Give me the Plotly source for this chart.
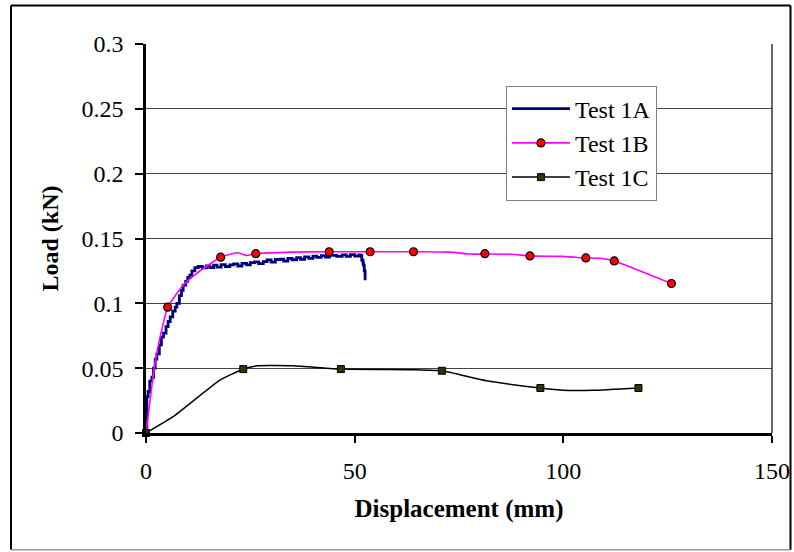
import plotly.graph_objects as go

# ---------------- data (mm, kN) ----------------
a_x = [0, 0.2, 0.5, 0.9, 1.4, 1.8, 2.2, 2.6, 3.2, 3.7, 4.2, 4.8, 5.3, 5.8, 6.4, 7.0, 7.4, 8.0,
       8.5, 8.9, 9.5, 10.0, 10.5, 11.0, 11.7, 12.5, 13.5, 14.5, 15.3, 16.2, 17.0, 18.0, 19.0,
       20.1, 21.0, 22.0, 23.0, 24.1, 25.0, 26.0, 27.0, 28.1, 29.0, 30.0, 31.0, 32.1, 33.0,
       34.0, 35.0, 36.1, 37.0, 38.0, 39.0, 40.0, 40.9, 42.0, 43.0, 44.0, 45.7, 47.0, 48.0,
       49.0, 50.0, 51.0, 51.3, 51.7, 52.0, 52.1, 52.3, 52.5]
a_y = [0, 0.028, 0.032, 0.040, 0.043, 0.050, 0.057, 0.061, 0.068, 0.074, 0.077, 0.082, 0.086,
       0.0896, 0.094, 0.097, 0.0999, 0.106, 0.110, 0.114, 0.117, 0.120, 0.1217, 0.125, 0.1276,
       0.1284, 0.1274, 0.1288, 0.1276, 0.1294, 0.1280, 0.1298, 0.1284, 0.1297, 0.1304, 0.1288,
       0.1308, 0.1296, 0.1314, 0.1320, 0.1306, 0.1322, 0.1334, 0.1318, 0.1338, 0.1340, 0.1326,
       0.1347, 0.1336, 0.1352, 0.1340, 0.1358, 0.1346, 0.1364, 0.1354, 0.1368, 0.1356, 0.1370,
       0.1362, 0.1374, 0.1362, 0.1376, 0.1364, 0.1374, 0.1370, 0.1333, 0.1310, 0.1295, 0.1250,
       0.1178]

b_line_x = [0, 2.2, 4.1, 5.2, 8.9, 12.1, 17.9, 21.9, 24.1, 26.3, 35.0, 43.9, 53.7, 64.1, 72.8,
            77.6, 81.2, 87.6, 92.0, 99.6, 103.0, 105.4, 108.8, 112.2, 115.6, 125.9]
b_line_y = [0, 0.055, 0.084, 0.097, 0.114, 0.123, 0.1356, 0.139, 0.137, 0.1383, 0.1395, 0.1398,
            0.1398, 0.1398, 0.1395, 0.1380, 0.1380, 0.1378, 0.1366, 0.1362, 0.1355, 0.1350,
            0.1348, 0.1327, 0.1286, 0.1153]
b_mark_x = [5.2, 17.9, 26.3, 43.9, 53.7, 64.1, 81.2, 92.0, 105.4, 112.2, 125.9]
b_mark_y = [0.097, 0.1356, 0.1383, 0.1398, 0.1398, 0.1398, 0.1383, 0.1366, 0.1350, 0.1327, 0.1153]

c_line_x = [0, 6.5, 17.7, 23.3, 26.5, 35.3, 46.7, 64.0, 70.9, 81.6, 94.5, 100.0, 107.2, 118.0]
c_line_y = [0, 0.0126, 0.0408, 0.0493, 0.0518, 0.0518, 0.0493, 0.0488, 0.0480, 0.0403, 0.0347,
            0.0329, 0.0329, 0.0347]
c_mark_x = [0, 23.3, 46.7, 70.9, 94.5, 118.0]
c_mark_y = [0, 0.0493, 0.0493, 0.0480, 0.0347, 0.0347]

x_ticks = [0, 50, 100, 150]
y_ticks = [0, 0.05, 0.1, 0.15, 0.2, 0.25, 0.3]
y_labels = ["0", "0.05", "0.1", "0.15", "0.2", "0.25", "0.3"]

FONT = "Liberation Serif, Times New Roman, serif"
NAVY = "#000080"
MAG = "#FF00FF"

fig = go.Figure()

# Test 1A
fig.add_trace(go.Scatter(x=a_x, y=a_y, mode="lines", name="Test 1A",
                         line=dict(color=NAVY, width=2.8, shape="hv"), legendgroup="a", legendrank=1))
# Test 1B
fig.add_trace(go.Scatter(x=b_line_x, y=b_line_y, mode="lines", showlegend=False,
                         line=dict(color=MAG, width=1.6, shape="spline", smoothing=0.5)))
fig.add_trace(go.Scatter(x=b_mark_x, y=b_mark_y, mode="markers", showlegend=False,
                         marker=dict(symbol="circle", size=8, color="#FF0000",
                                     line=dict(color="black", width=1.2)),
                         cliponaxis=False))
fig.add_trace(go.Scatter(x=[None], y=[None], mode="lines+markers", name="Test 1B",
                         line=dict(color=MAG, width=1.6),
                         marker=dict(symbol="circle", size=8, color="#FF0000",
                                     line=dict(color="black", width=1.2)),
                         legendgroup="b", legendrank=2))
# Test 1C
fig.add_trace(go.Scatter(x=c_line_x, y=c_line_y, mode="lines", showlegend=False,
                         line=dict(color="black", width=1.5, shape="spline", smoothing=0.4)))
fig.add_trace(go.Scatter(x=c_mark_x, y=c_mark_y, mode="markers", showlegend=False,
                         marker=dict(symbol="square", size=7, color="#333300",
                                     line=dict(color="black", width=1)),
                         cliponaxis=False))
fig.add_trace(go.Scatter(x=[None], y=[None], mode="lines+markers", name="Test 1C",
                         line=dict(color="black", width=1.5),
                         marker=dict(symbol="square", size=7, color="#333300",
                                     line=dict(color="black", width=1)),
                         legendgroup="c", legendrank=3))

# plot area: x 146..772 px, y 44..433 px
PL, PR, PT, PB = 146, 772, 43.5, 433
W, H = 794, 552


def px(xp):
    return (xp - PL) / (PR - PL)


def py(yp):
    return (PB - yp) / (PB - PT)


FL, FR, FT, FB = 11, 790.5, 5, 550

fig.update_layout(
    width=W, height=H,
    margin=dict(l=PL, r=W - PR, t=PT, b=H - PB),
    paper_bgcolor="white", plot_bgcolor="white",
    font=dict(family=FONT, size=24, color="black"),
    showlegend=True,
    legend=dict(x=0.575, y=0.893, xanchor="left", yanchor="top",
                bgcolor="white", bordercolor="#808080", borderwidth=1,
                font=dict(family=FONT, size=24, color="black"),
                itemwidth=58, tracegroupgap=9, traceorder="normal"),
    xaxis=dict(range=[0, 150], tickvals=x_ticks, ticktext=[str(v) for v in x_ticks],
               showgrid=False, zeroline=False, showline=True, linecolor="black",
               linewidth=2.5, ticks="outside", ticklen=7, tickwidth=1.5, tickcolor="black",
               ticklabelstandoff=7, automargin=False,
               title=dict(text="<b>Displacement (mm)</b>", standoff=17,
                          font=dict(family=FONT, size=25))),
    yaxis=dict(range=[0, 0.3], tickvals=y_ticks, ticktext=y_labels,
               showgrid=True, gridcolor="#444444", gridwidth=1, zeroline=False,
               showline=True, linecolor="black", linewidth=2.5, ticks="outside",
               ticklen=8, tickwidth=1.5, tickcolor="black", ticklabelstandoff=7,
               automargin=False,
               title=dict(text="<b>Load (kN)</b>", standoff=17,
                          font=dict(family=FONT, size=24))),
    shapes=[
        # right edge of plot area
        dict(type="line", xref="paper", yref="paper", x0=1, x1=1, y0=0, y1=1,
             line=dict(color="#333333", width=1.5)),
        # outer frame
        dict(type="line", xref="paper", yref="paper", x0=px(FL), x1=px(FR), y0=py(FT), y1=py(FT),
             line=dict(color="black", width=2)),
        dict(type="line", xref="paper", yref="paper", x0=px(FL), x1=px(FL), y0=py(FT), y1=py(FB),
             line=dict(color="black", width=2)),
        dict(type="line", xref="paper", yref="paper", x0=px(FR), x1=px(FR), y0=py(FT), y1=py(FB),
             line=dict(color="black", width=2)),
        dict(type="line", xref="paper", yref="paper", x0=px(FL), x1=px(FR), y0=py(FB), y1=py(FB),
             line=dict(color="#999999", width=1.5)),
    ],
)

fig.write_html("out.html", config={"displayModeBar": False},
               post_script="document.body.style.margin='0';document.body.style.overflow='hidden';")
